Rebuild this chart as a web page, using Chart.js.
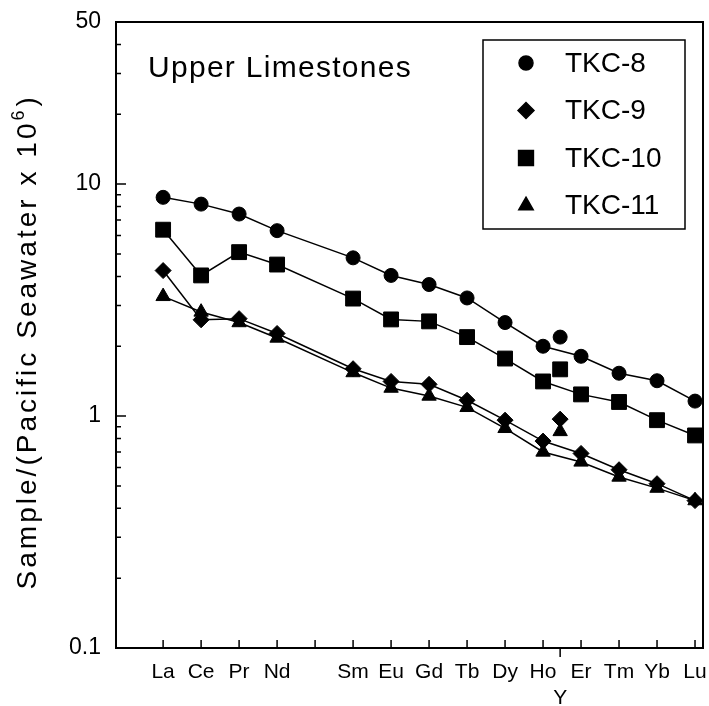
<!DOCTYPE html>
<html>
<head>
<meta charset="utf-8">
<script src="https://cdn.jsdelivr.net/npm/chart.js@4/dist/chart.umd.min.js"></script>
<style>
  html, body { margin: 0; padding: 0; background: #fff; }
  #wrap { width: 709px; height: 706px; }
</style>
</head>
<body>
<div id="wrap"><canvas id="reeChart"></canvas></div>
<script>
// rare earth elements (Pm has no data) and their atomic numbers
let reeLabels = ['La', 'Ce', 'Pr', 'Nd', 'Sm', 'Eu', 'Gd', 'Tb', 'Dy', 'Ho', 'Er', 'Tm', 'Yb', 'Lu'];
let reeZ = [57, 58, 59, 60, 62, 63, 64, 65, 66, 67, 68, 69, 70, 71];

// x axis ticks
let axisZ = [57, 58, 59, 60, 61, 62, 63, 64, 65, 66, 67, 68, 69, 70, 71];
let axisLabels = ['La', 'Ce', 'Pr', 'Nd', '', 'Sm', 'Eu', 'Gd', 'Tb', 'Dy', 'Ho', 'Er', 'Tm', 'Yb', 'Lu'];
let yttriumZ = 67.45; // Y is plotted between Ho and Er

// y axis ticks
let yTicks = [0.1, 0.2, 0.3, 0.4, 0.5, 0.6, 0.7, 0.8, 0.9, 1, 2, 3, 4, 5, 6, 7, 8, 9, 10, 20, 30, 40, 50];
let yTickLabels = [0.1, 1, 10, 50];

let sampleNames = ['TKC-8', 'TKC-9', 'TKC-10', 'TKC-11'];
let tkc8 = [8.77, 8.20, 7.43, 6.30, 4.81, 4.04, 3.69, 3.23, 2.53, 2.00, 1.81, 1.53, 1.42, 1.16];
let tkc9 = [4.24, 2.60, 2.63, 2.27, 1.60, 1.41, 1.37, 1.17, 0.96, 0.78, 0.69, 0.587, 0.511, 0.432];
let tkc10 = [6.36, 4.04, 5.09, 4.50, 3.21, 2.61, 2.56, 2.19, 1.77, 1.41, 1.24, 1.15, 0.96, 0.825];
let tkc11 = [3.28, 2.81, 2.53, 2.17, 1.54, 1.32, 1.22, 1.09, 0.885, 0.70, 0.634, 0.546, 0.489, 0.432];
let yttrium = [2.19, 0.97, 1.59, 0.858];

let sampleValues = [tkc8, tkc9, tkc10, tkc11];
let markers = [
  { style: 'circle', r: 7 },
  { style: 'rectRot', r: 8 },
  { style: 'rect', r: 10.5 },
  { style: 'triangle', r: 8.3 }
];

let datasets = [];
sampleNames.forEach((name, i) => {
  datasets.push({
    label: name,
    data: reeZ.map((z, j) => ({ x: z, y: sampleValues[i][j] })),
    showLine: true,
    borderColor: '#000',
    borderWidth: 1.5,
    backgroundColor: '#000',
    pointStyle: markers[i].style,
    pointRadius: markers[i].r,
    pointBorderWidth: 1,
    pointBorderColor: '#000',
    pointBackgroundColor: '#000'
  });
});
sampleNames.forEach((name, i) => {
  datasets.push({
    label: '',
    data: [{ x: yttriumZ, y: yttrium[i] }],
    showLine: false,
    pointStyle: markers[i].style,
    pointRadius: markers[i].r,
    pointBorderWidth: 1,
    pointBorderColor: '#000',
    pointBackgroundColor: '#000'
  });
});

const FONT = "'Liberation Sans', Arial, sans-serif";

function spacedText(ctx, text, x, y, width) {
  ctx.letterSpacing = '0px';
  let w0 = ctx.measureText(text).width;
  ctx.letterSpacing = ((width - w0) / text.length) + 'px';
  ctx.fillText(text, x, y);
  ctx.letterSpacing = '0px';
}

function marker(ctx, style, r, x, y) {
  if (Chart.helpers && Chart.helpers.drawPoint) {
    Chart.helpers.drawPoint(ctx, { pointStyle: style, radius: r, rotation: 0, borderWidth: 1 }, x, y);
  }
}

const frameAndTicks = {
  id: 'frameAndTicks',
  beforeDatasetsDraw(chart) {
    const { ctx, chartArea: a, scales: { x, y } } = chart;
    ctx.save();
    ctx.strokeStyle = '#000';
    ctx.lineWidth = 2;
    ctx.strokeRect(a.left, a.top, a.right - a.left, a.bottom - a.top);
    ctx.lineWidth = 1.5;
    ctx.beginPath();
    x.ticks.forEach(t => {
      let px = x.getPixelForValue(t.value);
      if (t.value === yttriumZ) {
        ctx.moveTo(px, a.bottom); ctx.lineTo(px, a.bottom + 9);
      } else {
        ctx.moveTo(px, a.bottom); ctx.lineTo(px, a.bottom - 8);
      }
    });
    y.ticks.forEach(t => {
      let py = y.getPixelForValue(t.value);
      let len = yTickLabels.includes(t.value) ? 10 : 5;
      ctx.moveTo(a.left, py); ctx.lineTo(a.left + len, py);
    });
    ctx.stroke();
    ctx.restore();
  },
  afterDraw(chart) {
    const { ctx, chartArea: a } = chart;
    ctx.save();
    ctx.fillStyle = '#000';
    ctx.strokeStyle = '#000';

    // y axis title
    ctx.save();
    ctx.translate(28, (a.top + a.bottom) / 2 + 7);
    ctx.rotate(-Math.PI / 2);
    ctx.font = '28px ' + FONT;
    ctx.textBaseline = 'middle';
    ctx.textAlign = 'left';
    let main = 'Sample/(Pacific Seawater x 10';
    let tail = ')';
    let total = 495;
    let left = -total / 2;
    spacedText(ctx, main, left, 0, total - 26);
    ctx.font = '18px ' + FONT;
    ctx.fillText('6', left + total - 26, -9);
    ctx.font = '28px ' + FONT;
    ctx.fillText(tail, left + total - 12, 0);
    ctx.restore();

    // panel label
    ctx.font = '30px ' + FONT;
    ctx.textBaseline = 'alphabetic';
    ctx.textAlign = 'left';
    spacedText(ctx, 'Upper Limestones', a.left + 32, a.top + 55, 264);

    // legend
    let bx = a.right - 220, by = a.top + 18, bw = 202, bh = 189;
    ctx.lineWidth = 1.5;
    ctx.strokeRect(bx, by, bw, bh);
    ctx.font = '28px ' + FONT;
    ctx.textBaseline = 'middle';
    chart.data.datasets.forEach((ds, i) => {
      if (!ds.label) return;
      let rowY = by + 23 + i * 47.5;
      ctx.fillStyle = '#000';
      marker(ctx, ds.pointStyle, ds.pointRadius, bx + 43, rowY);
      ctx.fillStyle = '#000';
      ctx.fillText(ds.label, bx + 82, rowY + 1);
    });
    ctx.restore();
  }
};

let ctx = document.getElementById('reeChart').getContext('2d');

let reeChart = new Chart(ctx, {
  type: 'scatter',
  data: { datasets: datasets },
  options: {
    responsive: true,
    maintainAspectRatio: false,
    animation: false,
    layout: { autoPadding: false, padding: { top: 22, right: 6, left: 0, bottom: 0 } },
    plugins: {
      legend: { display: false },
      tooltip: { enabled: false }
    },
    scales: {
      x: {
        type: 'linear',
        min: 55.76,
        max: 71.21,
        grid: { display: false, drawTicks: false },
        border: { display: false },
        afterBuildTicks: (scale) => {
          scale.ticks = axisZ.concat([yttriumZ]).sort((p, q) => p - q).map(v => ({ value: v }));
        },
        afterFit: (scale) => {
          scale.height = 58;
          scale.paddingLeft = 0;
          scale.paddingRight = 0;
        },
        ticks: {
          autoSkip: false,
          maxRotation: 0,
          padding: 12,
          color: '#000',
          font: { family: FONT, size: 21 },
          callback: (value) => {
            if (value === yttriumZ) return ['', 'Y'];
            let k = axisZ.indexOf(value);
            return k >= 0 ? axisLabels[k] : '';
          }
        }
      },
      y: {
        type: 'logarithmic',
        min: 0.1,
        max: 50,
        grid: { display: false, drawTicks: false },
        border: { display: false },
        afterBuildTicks: (scale) => {
          scale.ticks = yTicks.map(v => ({ value: v }));
        },
        afterFit: (scale) => {
          scale.width = 116;
          scale.paddingTop = 0;
          scale.paddingBottom = 0;
        },
        ticks: {
          autoSkip: false,
          padding: 15,
          color: '#000',
          font: { family: FONT, size: 23 },
          callback: (value) => yTickLabels.includes(value) ? String(value) : ''
        }
      }
    }
  },
  plugins: [frameAndTicks]
});
</script>
</body>
</html>
